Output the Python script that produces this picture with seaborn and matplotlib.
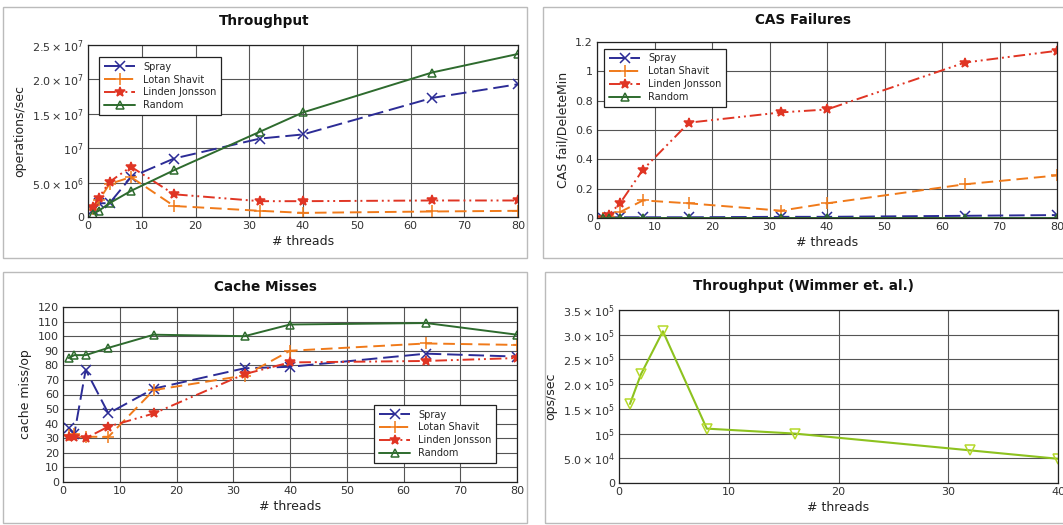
import numpy as np
import pandas as pd
import matplotlib
matplotlib.use("Agg")
import matplotlib.pyplot as plt
from matplotlib.patches import Rectangle
from matplotlib.ticker import FuncFormatter, MultipleLocator
import seaborn as sns

# ---------------------------------------------------------------------------
# Data
# ---------------------------------------------------------------------------
THREADS = [1, 2, 4, 8, 16, 32, 40, 64, 80]
SERIES = ["Spray", "Lotan Shavit", "Linden Jonsson", "Random"]

thr_spray  = [1.0e6, 2.0e6, 2.0e6, 5.8e6, 8.5e6, 1.14e7, 1.20e7, 1.73e7, 1.93e7]
thr_lotan  = [1.2e6, 2.4e6, 4.8e6, 5.8e6, 1.6e6, 0.9e6, 0.6e6, 0.8e6, 0.9e6]
thr_linden = [1.5e6, 2.8e6, 5.1e6, 7.3e6, 3.3e6, 2.3e6, 2.3e6, 2.4e6, 2.4e6]
thr_random = [0.5e6, 0.9e6, 2.0e6, 3.8e6, 6.8e6, 1.24e7, 1.52e7, 2.10e7, 2.37e7]

cas_spray  = [0.0, 0.005, 0.005, 0.005, 0.005, 0.008, 0.008, 0.015, 0.02]
cas_lotan  = [0.0, 0.01, 0.04, 0.12, 0.10, 0.05, 0.10, 0.23, 0.29]
cas_linden = [0.0, 0.02, 0.10, 0.33, 0.65, 0.72, 0.74, 1.06, 1.14]
cas_random = [0.0, 0.0, 0.0, 0.0, 0.0, 0.0, 0.0, 0.0, 0.0]

cm_spray  = [37, 33, 77, 47, 64, 78, 79, 88, 86]
cm_lotan  = [32, 33, 31, 31, 63, 73, 90, 95, 94]
cm_linden = [31, 31, 30, 38, 47, 74, 82, 83, 85]
cm_random = [85, 87, 87, 92, 101, 100, 108, 109, 101]

WIM_THREADS = [1, 2, 4, 8, 16, 32, 40]
wim_ops     = [1.6e5, 2.2e5, 3.07e5, 1.1e5, 1.0e5, 6.6e4, 4.9e4]

# ---------------------------------------------------------------------------
# Styles
# ---------------------------------------------------------------------------
STYLE = {
    "Spray":          dict(color="#2c2c96", marker="x", ms=7, dash=(8, 3), fill=False),
    "Lotan Shavit":   dict(color="#f07a1a", marker="+", ms=8, dash=(6, 3), fill=False),
    "Linden Jonsson": dict(color="#e03524", marker="*", ms=7, dash=(6, 2, 1, 2, 1, 2), fill=True),
    "Random":         dict(color="#2e6b2e", marker="^", ms=6, dash=None, fill=False),
}
GRID_COL = "#555555"
W, H = 1063, 525

sns.set_theme(style="whitegrid")
plt.rcParams["font.family"] = ["DejaVu Sans"]
plt.rcParams["mathtext.default"] = "regular"


def sci_fmt(v, pos):
    if abs(v) < 1e-12:
        return "0"
    exp = int(np.floor(np.log10(abs(v)) + 1e-9))
    mant = v / 10 ** exp
    if abs(mant - 1) < 1e-9:
        return rf"$10^{{{exp}}}$"
    return rf"${mant:.1f}\times10^{{{exp}}}$"


def style_axes(ax, fig, title, title_xy, ylabel):
    ax.set_facecolor("white")
    ax.grid(True, color=GRID_COL, linewidth=0.8)
    for sp in ax.spines.values():
        sp.set_edgecolor("#222222")
        sp.set_linewidth(0.9)
    ax.tick_params(axis="both", labelsize=8, colors="#333333", length=0, pad=3)
    # titles are centred over the whole panel, not the axes
    fig.text(title_xy[0] / W, 1 - title_xy[1] / H, title, ha="center", va="center",
             fontsize=9.8, fontweight="bold", color="#111111")
    ax.set_xlabel("# threads", fontsize=9, color="#222222", labelpad=3)
    ax.set_ylabel(ylabel, fontsize=9, color="#222222", labelpad=4)


def draw_series(ax, values_by_name):
    for name in SERIES:
        st = STYLE[name]
        df = pd.DataFrame({"threads": THREADS, "value": values_by_name[name]})
        sns.lineplot(
            data=df, x="threads", y="value", ax=ax, color=st["color"],
            marker=st["marker"], markersize=st["ms"], linewidth=1.4,
            markerfacecolor=st["color"] if st["fill"] else "none",
            markeredgecolor=st["color"], markeredgewidth=1.1,
            label=name, errorbar=None,
        )
        line = ax.get_lines()[-1]
        if st["dash"] is not None:
            line.set_dashes(st["dash"])


def make_legend(ax, **kw):
    leg = ax.legend(fontsize=7, frameon=True, fancybox=False, framealpha=1,
                    edgecolor="#222222", handlelength=3.2, borderpad=0.5,
                    labelspacing=0.3, numpoints=1, **kw)
    leg.get_frame().set_linewidth(0.9)


fig = plt.figure(figsize=(W / 100, H / 100), dpi=100)
fig.patch.set_facecolor("white")

# panel frames
for (x0, y0, x1, y1) in [(3, 7, 527, 258), (543, 7, 1070, 258),
                         (3, 272, 527, 523), (545, 272, 1070, 523)]:
    fig.patches.append(Rectangle((x0 / W, 1 - y1 / H), (x1 - x0) / W, (y1 - y0) / H,
                                 transform=fig.transFigure, fill=False,
                                 edgecolor="#bbbbbb", linewidth=1.0))

ax1 = fig.add_axes([88 / W, 1 - 217 / H, 430 / W, 172 / H])
ax2 = fig.add_axes([597 / W, 1 - 218 / H, 460 / W, 176 / H])
ax3 = fig.add_axes([63 / W, 1 - 482 / H, 454 / W, 175 / H])
ax4 = fig.add_axes([619 / W, 1 - 483 / H, 439 / W, 173 / H])

# Throughput
draw_series(ax1, {"Spray": thr_spray, "Lotan Shavit": thr_lotan,
                  "Linden Jonsson": thr_linden, "Random": thr_random})
style_axes(ax1, fig, "Throughput", (264, 21), "operations/sec")
ax1.set_xlim(0, 80)
ax1.set_ylim(0, 2.5e7)
ax1.xaxis.set_major_locator(MultipleLocator(10))
ax1.yaxis.set_major_locator(MultipleLocator(5e6))
ax1.yaxis.set_major_formatter(FuncFormatter(sci_fmt))
make_legend(ax1, loc="upper left", bbox_to_anchor=(0.015, 0.96))

# CAS failures
draw_series(ax2, {"Spray": cas_spray, "Lotan Shavit": cas_lotan,
                  "Linden Jonsson": cas_linden, "Random": cas_random})
style_axes(ax2, fig, "CAS Failures", (803, 20), "CAS fail/DeleteMin")
ax2.set_xlim(0, 80)
ax2.set_ylim(0, 1.2)
ax2.xaxis.set_major_locator(MultipleLocator(10))
ax2.yaxis.set_major_locator(MultipleLocator(0.2))
ax2.yaxis.set_major_formatter(FuncFormatter(lambda v, p: f"{v:g}"))
make_legend(ax2, loc="upper left", bbox_to_anchor=(0.005, 0.99))

# Cache misses
draw_series(ax3, {"Spray": cm_spray, "Lotan Shavit": cm_lotan,
                  "Linden Jonsson": cm_linden, "Random": cm_random})
style_axes(ax3, fig, "Cache Misses", (265, 287), "cache miss/op")
ax3.set_xlim(0, 80)
ax3.set_ylim(0, 120)
ax3.xaxis.set_major_locator(MultipleLocator(10))
ax3.yaxis.set_major_locator(MultipleLocator(10))
make_legend(ax3, loc="lower right", bbox_to_anchor=(0.965, 0.08))

# Wimmer throughput
wim_df = pd.DataFrame({"threads": WIM_THREADS, "ops": wim_ops})
sns.lineplot(data=wim_df, x="threads", y="ops", ax=ax4, color="#8dc21f",
             marker="v", markersize=7, linewidth=1.5, markerfacecolor="none",
             markeredgecolor="#b5d92a", markeredgewidth=1.1, errorbar=None)
style_axes(ax4, fig, "Throughput (Wimmer et. al.)", (803, 286), "ops/sec")
ax4.set_xlim(0, 40)
ax4.set_ylim(0, 3.5e5)
ax4.xaxis.set_major_locator(MultipleLocator(10))
ax4.yaxis.set_major_locator(MultipleLocator(5e4))
ax4.yaxis.set_major_formatter(FuncFormatter(sci_fmt))

fig.savefig("out.png", dpi=100)
